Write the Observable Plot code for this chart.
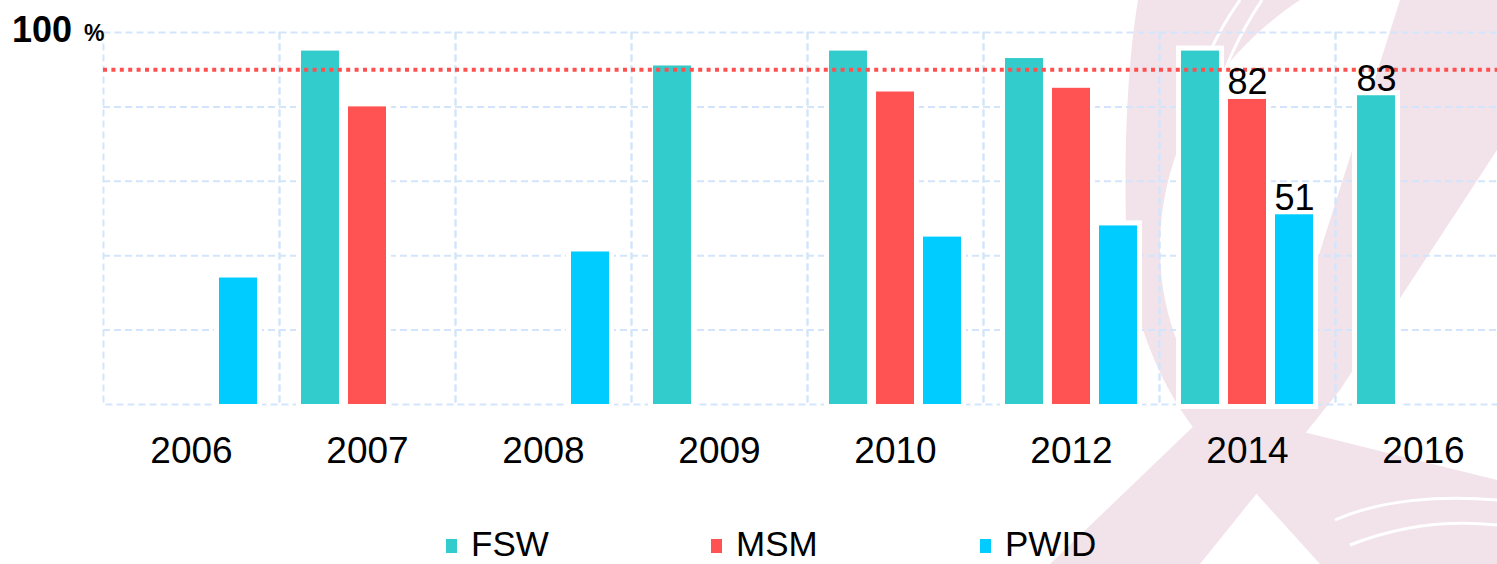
<!DOCTYPE html>
<html>
<head>
<meta charset="utf-8">
<script src="https://cdn.jsdelivr.net/npm/d3@7"></script>
<script src="https://cdn.jsdelivr.net/npm/@observablehq/plot@0.6"></script>
<style>
  html, body { margin: 0; padding: 0; background: #fff; overflow: hidden; }
  #wrap { position: relative; width: 1497px; height: 564px; overflow: hidden; font-family: "Liberation Sans", Arial, sans-serif; }
  #bg, #fg { position: absolute; left: 0; top: 0; }
  #chart { position: absolute; left: 0; top: 0; }
</style>
</head>
<body>
<div id="wrap">
  <svg id="bg" width="1497" height="564">
    <g fill="#f2e3ea">
      <path d="M1138,0 L1300,0 C1210,60 1160,150 1160,250 C1160,320 1190,380 1225,430 L1195,430 C1150,370 1128,300 1126,230 C1124,140 1128,60 1138,0 Z"/>
      <path d="M1400,0 L1497,0 L1497,150 L1340,390 L1200,564 L1050,564 L1200,420 L1295,330 Z"/>
      <path d="M1185,415 L1235,415 L1497,480 L1497,564 L1320,564 Z"/>
    </g>
    <g fill="none" stroke="#fff" stroke-width="3">
      <path d="M1240,0 C1190,70 1170,160 1178,250"/>
      <path d="M1262,0 C1215,70 1195,150 1198,230"/>
      <path d="M1335,520 C1380,500 1440,495 1497,500"/>
      <path d="M1350,545 C1400,525 1450,520 1497,525"/>
    </g>
  </svg>
  <div id="chart"></div>
  <svg id="fg" width="1497" height="564" font-family="Liberation Sans, Arial, sans-serif">
    <text x="12" y="42" font-size="36" font-weight="bold" fill="#000">100</text>
    <text x="84" y="41" font-size="23" font-weight="bold" fill="#000">%</text>
    <g id="legend"></g>
  </svg>
</div>
<script>
// ---- data ----
const years = ["2006", "2007", "2008", "2009", "2010", "2012", "2014", "2016"];
const groups = ["FSW", "MSM", "PWID"];
const groupColors = ["#33cccc", "#ff5252", "#00ccff"];
const fswValues  = [null, 95, null, 91, 95, 93, 95, 83];
const msmValues  = [null, 80, null, null, 84, 85, 82, null];
const pwidValues = [34, null, 41, null, 45, 48, 51, null];
const target = 90;
const labelledYears  = ["2014", "2014", "2016"];
const labelledGroups = ["MSM", "PWID", "FSW"];
const legendX = [446, 711, 980];

// ---- build table ----
const seriesValues = {FSW: fswValues, MSM: msmValues, PWID: pwidValues};
const rows = [];
years.forEach((year, i) => {
  groups.forEach(g => {
    const v = seriesValues[g][i];
    if (v != null) rows.push({year, group: g, value: v});
  });
});
const labelRows = rows.filter(r =>
  labelledYears.some((y, k) => y === r.year && labelledGroups[k] === r.group));

const gridColor = "#d3e5fc";

const chart = Plot.plot({
  width: 1513,
  height: 500,
  marginTop: 32,
  marginBottom: 96,
  marginLeft: 101,
  marginRight: 0,
  style: {background: "transparent", maxWidth: "none", fontFamily: "Liberation Sans, Arial, sans-serif", overflow: "visible"},
  fx: {domain: years, padding: 0, label: null},
  x: {domain: groups, paddingInner: 0.2, paddingOuter: 0.457, axis: null},
  y: {domain: [0, 100], axis: null},
  color: {domain: groups, range: groupColors},
  marks: [
    Plot.frame({stroke: gridColor, strokeWidth: 2, strokeDasharray: "7,4"}),
    Plot.gridY([20, 40, 60, 80], {stroke: gridColor, strokeOpacity: 1, strokeWidth: 2, strokeDasharray: "7,4"}),
    Plot.barY(rows, {fx: "year", x: "group", y: "value", fill: "group", stroke: "white", strokeWidth: 10, paintOrder: "stroke"}),
    Plot.ruleY([target], {stroke: "#ff4f4f", strokeWidth: 4, strokeDasharray: "4,4.4"}),
    Plot.text(labelRows, {fx: "year", x: "group", y: "value", text: d => String(d.value), lineAnchor: "bottom", dy: -5, fontSize: 36, fill: "#000"}),
    Plot.axisFx({anchor: "bottom", tickSize: 0, tickPadding: 32, fontSize: 37, label: null, color: "#000"})
  ]
});
document.getElementById("chart").appendChild(chart);

// ---- legend ----
const legend = d3.select("#legend");
groups.forEach((g, i) => {
  legend.append("rect").attr("x", legendX[i]).attr("y", 539).attr("width", 11).attr("height", 14).attr("fill", groupColors[i]);
  legend.append("text").attr("x", legendX[i] + 25).attr("y", 556).attr("font-size", 35).attr("fill", "#000").text(g);
});
</script>
</body>
</html>
